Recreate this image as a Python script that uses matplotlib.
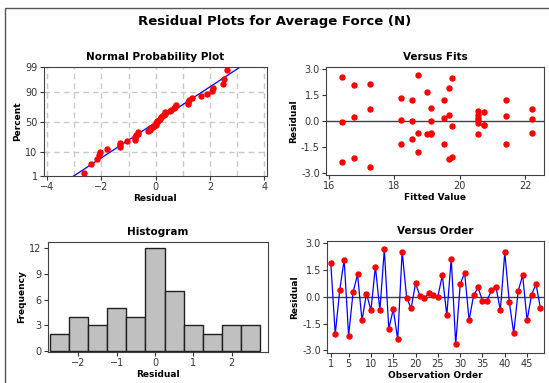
import matplotlib
matplotlib.use("Agg")
import matplotlib.pyplot as plt
from matplotlib.patches import Rectangle
from statistics import NormalDist
import numpy as np

residuals = [1.89, -2.10, 0.34, 2.06, -2.18, 0.24, 1.23, -1.33, 0.17, -0.77,
             1.67, -0.77, 2.63, -1.80, -0.71, -2.38, 2.51, -0.06, -0.66, 0.73,
             0.02, -0.09, 0.19, 0.06, 0.00, 1.18, -1.05, 2.12, -2.66, 0.68,
             1.33, -1.33, 0.06, 0.51, -0.23, -0.23, 0.34, 0.56, -0.77, 2.46,
             -0.28, -2.04, 0.30, 1.18, -1.33, 0.11, 0.69, -0.66]
# fitted value for each observation
fits = [19.67, 16.76, 19.67, 16.76, 19.67, 16.76, 19.51, 18.22, 19.51, 19.00,
        19.00, 19.12, 18.72, 18.72, 18.72, 16.41, 16.41, 16.41, 19.12, 19.12,
        19.12, 20.55, 20.55, 20.55, 18.53, 18.53, 18.53, 17.26, 17.26, 17.26,
        18.22, 19.51, 18.22, 20.73, 20.73, 20.73, 20.55, 20.55, 20.55, 19.76,
        19.76, 19.76, 21.42, 21.42, 21.42, 22.19, 22.19, 22.19]
# histogram bins (centres) and counts
hist_centers = [-2.5, -2.0, -1.5, -1.0, -0.5, 0.0, 0.5, 1.0, 1.5, 2.0, 2.5]
hist_counts = [2, 4, 3, 5, 4, 12, 7, 3, 2, 3, 3]
pct_ticks = [1, 10, 50, 90, 99]

RED = "#ff0000"
BLUE = "#0000ff"
TXT = "#333333"
FONT = ["DejaVu Sans Condensed", "DejaVu Sans"]

plt.rcParams["font.family"] = FONT
plt.rcParams["font.size"] = 7
plt.rcParams["axes.edgecolor"] = "#404040"
plt.rcParams["xtick.color"] = TXT
plt.rcParams["ytick.color"] = TXT
plt.rcParams["xtick.major.size"] = 3
plt.rcParams["ytick.major.size"] = 3

fig = plt.figure(figsize=(5.49, 3.83), dpi=100)
fig.patches.append(Rectangle((5 / 549, -0.1), 2, 1 - 8 / 383 + 0.1,
                             transform=fig.transFigure, fill=False,
                             edgecolor="#555555", lw=1))
fig.text(0.5, 1 - 22 / 383, "Residual Plots for Average Force (N)",
         ha="center", va="center", fontsize=9.5, fontweight="bold")

ax1 = fig.add_axes([0.080, 0.540, 0.406, 0.285])
ax2 = fig.add_axes([0.594, 0.543, 0.397, 0.282])
ax3 = fig.add_axes([0.087, 0.081, 0.401, 0.287])
ax4 = fig.add_axes([0.596, 0.078, 0.395, 0.293])


def style(ax, title, xlabel, ylabel):
    ax.set_title(title, fontsize=7.5, fontweight="bold", pad=5)
    ax.set_xlabel(xlabel, fontsize=6.5, fontweight="bold", labelpad=1)
    ax.set_ylabel(ylabel, fontsize=6.5, fontweight="bold", labelpad=2)
    ax.tick_params(labelsize=7, pad=1.5)


# Normal probability plot
nd = NormalDist()
res = np.array(residuals)
srt = np.sort(res)
n = len(srt)
ranks = (np.arange(1, n + 1) - 0.3) / (n + 0.4)
z = np.array([nd.inv_cdf(p) for p in ranks])
mu, sd = res.mean(), res.std(ddof=1)
zlim = nd.inv_cdf(0.99)
ax1.set_xlim(-4.12, 4.09)
ax1.set_ylim(-zlim, zlim)
for xv in range(-4, 5):
    ax1.axvline(xv, color="#c8c8c8", lw=1, ls=(0, (4, 3)), zorder=0)
for p in pct_ticks[1:-1]:
    ax1.axhline(nd.inv_cdf(p / 100), color="#c8c8c8", lw=1, ls=(0, (4, 3)), zorder=0)
zz = np.array([-zlim - 0.1, zlim + 0.1])
ax1.plot(mu + sd * zz, zz, color=BLUE, lw=0.9, zorder=2)
ax1.plot(srt, z, "o", color=RED, ms=3.6, mec=RED, zorder=3)
ax1.set_yticks([nd.inv_cdf(p / 100) for p in pct_ticks])
ax1.set_yticklabels([str(p) for p in pct_ticks])
ax1.set_xticks([-4, -2, 0, 2, 4])
style(ax1, "Normal Probability Plot", "Residual", "Percent")

# Versus fits
ax2.axhline(0, color="#404040", lw=1, zorder=1)
ax2.plot(fits, residuals, "o", color=RED, ms=3.6, mec=RED, zorder=3)
ax2.set_xlim(15.92, 22.57)
ax2.set_ylim(-3.1, 3.1)
ax2.set_xticks([16, 18, 20, 22])
ax2.set_yticks([-3.0, -1.5, 0.0, 1.5, 3.0])
ax2.set_yticklabels(["%.1f" % v for v in [-3.0, -1.5, 0.0, 1.5, 3.0]])
style(ax2, "Versus Fits", "Fitted Value", "Residual")

# Histogram
ax3.bar(hist_centers, hist_counts, width=0.5, color="#c0c0c0",
        edgecolor="#202020", lw=1)
ax3.set_xlim(-2.80, 2.95)
ax3.set_ylim(-0.1, 12.7)
ax3.set_xticks([-2, -1, 0, 1, 2])
ax3.set_yticks([0, 3, 6, 9, 12])
style(ax3, "Histogram", "Residual", "Frequency")

# Versus order
order = np.arange(1, n + 1)
ax4.axhline(0, color="#404040", lw=1, zorder=1)
ax4.plot(order, residuals, "-", color=BLUE, lw=0.9, zorder=2)
ax4.plot(order, residuals, "o", color=RED, ms=3.6, mec=RED, zorder=3)
ax4.set_xlim(0.2, 48.8)
ax4.set_ylim(-3.15, 3.1)
ax4.set_xticks([1, 5, 10, 15, 20, 25, 30, 35, 40, 45])
ax4.set_yticks([-3.0, -1.5, 0.0, 1.5, 3.0])
ax4.set_yticklabels(["%.1f" % v for v in [-3.0, -1.5, 0.0, 1.5, 3.0]])
style(ax4, "Versus Order", "Observation Order", "Residual")

fig.savefig("out.png", dpi=100)
